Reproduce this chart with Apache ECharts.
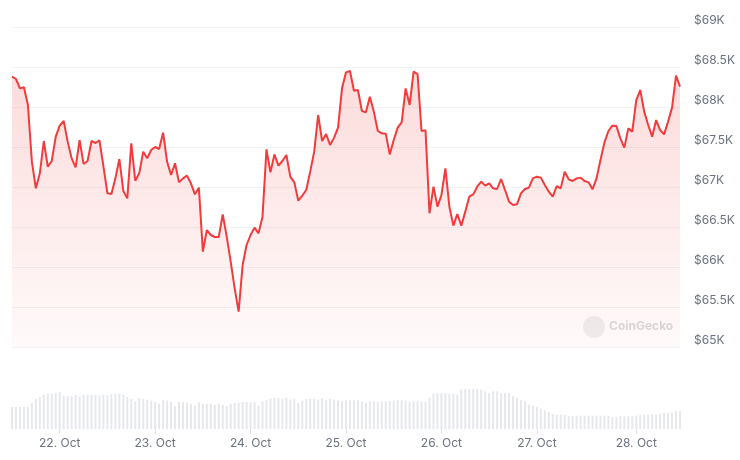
<!DOCTYPE html>
<html>
<head>
<meta charset="utf-8">
<script src="https://cdn.jsdelivr.net/npm/echarts@6/dist/echarts.min.js"></script>
<style>
  html, body { margin: 0; padding: 0; background: #ffffff; }
  #chart { width: 740px; height: 460px; }
</style>
</head>
<body>
<div id="chart"></div>
<script>
// hourly points, first one at 21 Oct 2024 10:00 UTC
var startTime = Date.UTC(2024, 9, 21, 10);
var stepMs = 3600 * 1000;

// BTC price (USD), one per hour
var prices = [
  68379, 68350, 68233, 68246, 68025, 67317, 66983, 67171, 67575, 67254,
  67325, 67629, 67767, 67825, 67567, 67358, 67246, 67587, 67288, 67325,
  67575, 67550, 67583, 67254, 66921, 66912, 67108, 67350, 66950, 66858,
  67546, 67079, 67171, 67442, 67358, 67462, 67500, 67475, 67679, 67317,
  67150, 67296, 67058, 67108, 67142, 67046, 66908, 66992, 66192, 66462,
  66400, 66375, 66375, 66658, 66379, 66067, 65733, 65442, 66025, 66275,
  66400, 66492, 66421, 66629, 67471, 67183, 67408, 67267, 67325, 67400,
  67129, 67058, 66829, 66892, 66962, 67192, 67442, 67900, 67575, 67662,
  67525, 67617, 67742, 68233, 68433, 68450, 68204, 68212, 67950, 67933,
  68129, 67942, 67700, 67671, 67667, 67408, 67587, 67742, 67808, 68233,
  68025, 68442, 68412, 67700, 67708, 66671, 67004, 66754, 66900, 67233,
  66754, 66517, 66662, 66517, 66692, 66879, 66908, 67004, 67067, 67017,
  67046, 66983, 66975, 67100, 66962, 66817, 66775, 66783, 66921, 66975,
  66992, 67108, 67129, 67117, 67025, 66942, 66879, 67012, 66983, 67192,
  67096, 67075, 67108, 67117, 67075, 67058, 66971, 67108, 67337, 67558,
  67700, 67767, 67762, 67608, 67492, 67733, 67692, 68087, 68212, 67942,
  67775, 67629, 67837, 67712, 67658, 67817, 67992, 68392, 68254
];

// traded volume (USD bn), one per hour
var volumes = [
  2.20, 2.20, 2.20, 2.20, 2.20, 2.60, 3.00, 3.20, 3.43, 3.53,
  3.53, 3.60, 3.70, 3.33, 3.27, 3.27, 3.40, 3.27, 3.40, 3.40,
  3.40, 3.40, 3.33, 3.40, 3.37, 3.47, 3.53, 3.53, 3.43, 3.20,
  3.00, 2.77, 3.10, 3.00, 2.93, 2.83, 2.70, 2.53, 2.87, 2.83,
  2.70, 2.27, 2.70, 2.70, 2.63, 2.50, 2.33, 2.67, 2.53, 2.53,
  2.50, 2.40, 2.53, 2.40, 2.27, 2.50, 2.60, 2.63, 2.70, 2.70,
  2.67, 2.67, 2.33, 2.77, 2.87, 3.03, 3.13, 3.10, 3.03, 3.13,
  2.93, 3.03, 2.60, 2.83, 3.00, 3.03, 3.00, 2.93, 3.10, 2.87,
  3.00, 2.93, 2.87, 2.80, 2.87, 2.87, 2.87, 2.87, 2.77, 2.60,
  2.77, 2.77, 2.70, 2.77, 2.77, 2.80, 2.83, 2.87, 2.87, 2.83,
  2.70, 2.77, 2.83, 2.77, 2.70, 3.10, 3.53, 3.60, 3.60, 3.60,
  3.53, 3.53, 3.43, 3.93, 4.03, 4.03, 4.03, 4.00, 3.93, 3.77,
  3.60, 3.77, 3.77, 3.60, 3.60, 3.60, 3.27, 3.10, 2.93, 2.77,
  2.43, 2.33, 2.20, 2.03, 1.87, 1.70, 1.50, 1.43, 1.43, 1.43,
  1.27, 1.33, 1.33, 1.33, 1.33, 1.33, 1.33, 1.33, 1.33, 1.33,
  1.33, 1.20, 1.20, 1.27, 1.27, 1.27, 1.27, 1.33, 1.43, 1.43,
  1.43, 1.50, 1.43, 1.53, 1.60, 1.60, 1.67, 1.77, 1.80
];

// day ticks at local (CET/CEST) midnight, in UTC
var dayTicks = [
  Date.UTC(2024, 9, 21, 22), Date.UTC(2024, 9, 22, 22), Date.UTC(2024, 9, 23, 22),
  Date.UTC(2024, 9, 24, 22), Date.UTC(2024, 9, 25, 22), Date.UTC(2024, 9, 26, 22),
  Date.UTC(2024, 9, 27, 23)
];
var dayLabels = ['22. Oct', '23. Oct', '24. Oct', '25. Oct', '26. Oct', '27. Oct', '28. Oct'];

var priceTicks = [65000, 65500, 66000, 66500, 67000, 67500, 68000, 68500, 69000];

var priceData = prices.map(function (p, i) { return [startTime + i * stepMs, p]; });
var volumeData = volumes.map(function (v, i) { return [startTime + i * stepMs, v]; });
var endTime = startTime + (prices.length - 1) * stepMs;

var chart = echarts.init(document.getElementById('chart'));
chart.setOption({
  animation: false,
  textStyle: { fontFamily: 'Inter, "Noto Sans", sans-serif' },
  grid: [
    { left: 12, right: 60, top: 27, bottom: 113 },
    { left: 12, right: 60, top: 389, bottom: 31 }
  ],
  xAxis: [
    {
      type: 'value', gridIndex: 0, min: startTime, max: endTime,
      axisLine: { show: false }, axisTick: { show: false },
      axisLabel: { show: false }, splitLine: { show: false }
    },
    {
      type: 'value', gridIndex: 1, min: startTime, max: endTime,
      axisLine: { show: false },
      axisTick: { show: true, length: 5, customValues: dayTicks, lineStyle: { color: '#dfe2e7' } },
      axisLabel: {
        customValues: dayTicks, margin: 8, color: '#6b7280', fontSize: 12,
        formatter: function (val) {
          var i = dayTicks.indexOf(val);
          return i >= 0 ? dayLabels[i] : '';
        }
      },
      splitLine: { show: false }
    }
  ],
  yAxis: [
    {
      type: 'value', gridIndex: 0, position: 'right',
      min: priceTicks[0], max: priceTicks[priceTicks.length - 1], interval: 500,
      axisLine: { show: false }, axisTick: { show: false },
      axisLabel: {
        margin: 14, color: '#6b7280', fontSize: 12, verticalAlign: 'bottom',
        padding: [0, 0, 1, 0],
        formatter: function (v) { return '$' + (v / 1000) + 'K'; }
      },
      splitLine: { lineStyle: { color: '#f1f2f4' } }
    },
    {
      type: 'value', gridIndex: 1, min: 0, max: 4,
      axisLine: { show: false }, axisTick: { show: false },
      axisLabel: { show: false }, splitLine: { show: false }
    }
  ],
  graphic: [
    {
      type: 'circle', left: 583, top: 316,
      shape: { r: 11 },
      style: { fill: '#efefef' }, z: 1
    },
    {
      type: 'text', left: 609, top: 320,
      style: { text: 'CoinGecko', fill: '#dadada', font: 'bold 12px Inter, sans-serif' }, z: 1
    }
  ],
  series: [
    {
      name: 'Price', type: 'line', xAxisIndex: 0, yAxisIndex: 0,
      data: priceData, showSymbol: false, smooth: false,
      lineStyle: { color: '#f23b3b', width: 2 },
      areaStyle: {
        color: new echarts.graphic.LinearGradient(0, 0, 0, 1, [
          { offset: 0, color: 'rgba(242,59,59,0.26)' },
          { offset: 1, color: 'rgba(242,59,59,0.04)' }
        ])
      },
      z: 3
    },
    {
      name: 'Volume', type: 'bar', xAxisIndex: 1, yAxisIndex: 1,
      data: volumeData, barWidth: 2,
      itemStyle: { color: '#e6e8ec' }
    }
  ]
});
</script>
</body>
</html>
